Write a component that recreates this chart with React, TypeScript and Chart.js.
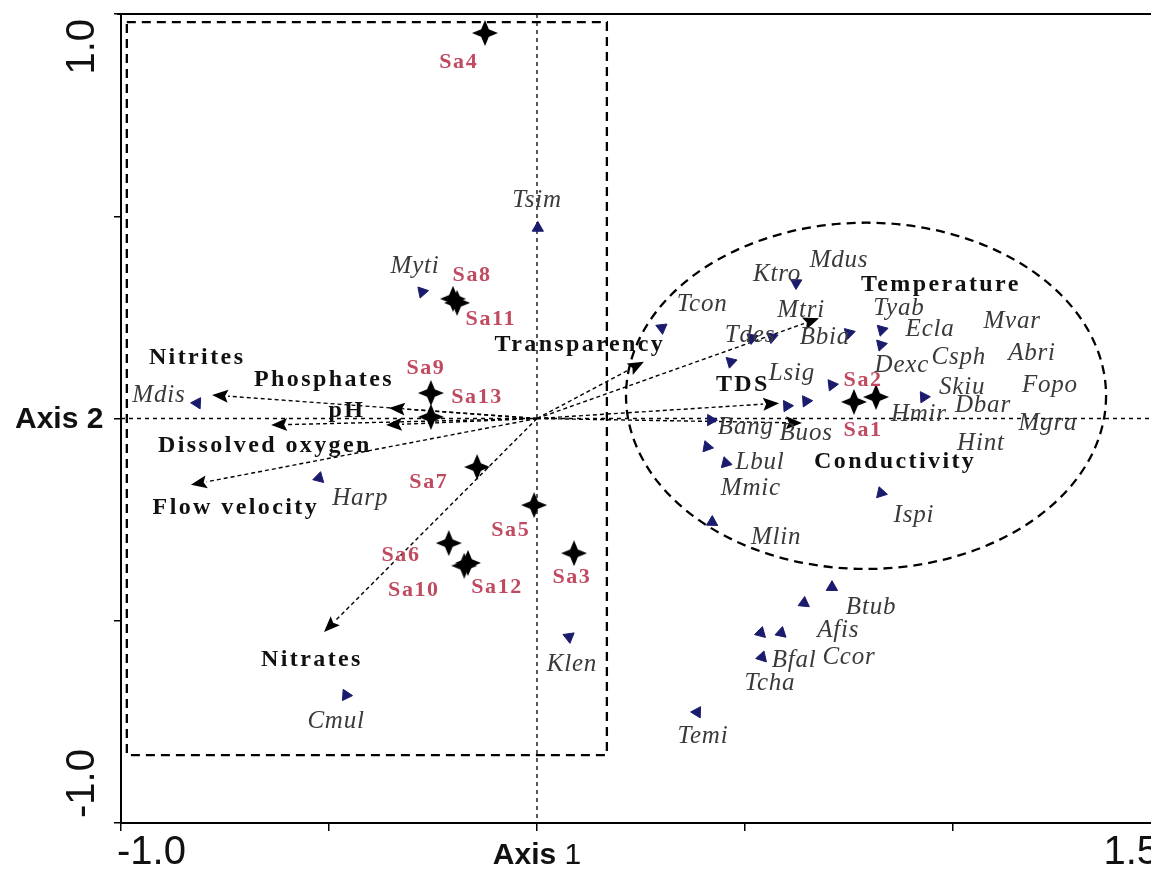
import React, { useEffect, useRef } from "react";
import { Chart, registerables } from "chart.js";

Chart.register(...registerables);

// ---- Sites (samples) ----
const siteNames = ["Sa1", "Sa2", "Sa3", "Sa4", "Sa5", "Sa6", "Sa7", "Sa8", "Sa9", "Sa10", "Sa11", "Sa12", "Sa13"];
const siteX = [0.762, 0.815, 0.089, -0.125, -0.007, -0.212, -0.144, -0.202, -0.255, -0.175, -0.192, -0.166, -0.255];
const siteY = [0.041, 0.053, -0.333, 0.953, -0.214, -0.308, -0.12, 0.296, 0.063, -0.364, 0.286, -0.357, 0.004];
const siteLabelX = [0.784, 0.784, 0.084, -0.188, -0.063, -0.327, -0.26, -0.156, -0.267, -0.296, -0.111, -0.096, -0.144];
const siteLabelY = [-0.028, 0.095, -0.392, 0.881, -0.276, -0.337, -0.157, 0.355, 0.125, -0.424, 0.244, -0.417, 0.053];

// ---- Environmental variables (arrows) ----
const envNames = ["Nitrites", "Phosphates", "pH", "Dissolved oxygen", "Flow velocity", "Nitrates", "Transparency", "Temperature", "TDS", "Conductivity"];
const envX = [-0.781, -0.356, -0.363, -0.639, -0.832, -0.512, 0.257, 0.678, 0.582, 0.637];
const envY = [0.058, 0.026, -0.016, -0.016, -0.164, -0.528, 0.14, 0.248, 0.038, -0.011];
const envLabelX = [-0.817, -0.512, -0.457, -0.654, -0.724, -0.541, 0.103, 0.971, 0.495, 0.861];
const envLabelY = [0.15, 0.095, 0.019, -0.068, -0.221, -0.597, 0.182, 0.33, 0.083, -0.108];

// ---- Species markers ----
const speciesMarkerX = [0.002, -0.276, -0.817, -0.524, -0.459, 0.077, 0.3, 0.623, 0.517, 0.565, 0.75, 0.466, 0.709, 0.601, 0.647, 0.418, 0.409, 0.454, 0.421, 0.829, 0.827, 0.93, 0.827, 0.709, 0.642, 0.538, 0.587, 0.541, 0.385];
const speciesMarkerY = [0.471, 0.313, 0.038, -0.147, -0.684, -0.54, 0.224, 0.335, 0.199, 0.201, 0.211, 0.14, 0.083, 0.031, 0.043, -0.004, -0.07, -0.11, -0.256, 0.219, 0.182, 0.053, -0.184, -0.417, -0.456, -0.53, -0.53, -0.59, -0.726];

// ---- Species labels ----
const speciesNames = ["Tsim", "Myti", "Mdis", "Harp", "Cmul", "Klen", "Tcon", "Ktro", "Mdus", "Mtri", "Tdes", "Bbia", "Lsig", "Bang", "Buos", "Lbul", "Mmic", "Mlin", "Tyab", "Ecla", "Dexc", "Csph", "Mvar", "Abri", "Skiu", "Fopo", "Dbar", "Hmir", "Mgra", "Hint", "Ispi", "Btub", "Afis", "Bfal", "Ccor", "Tcha", "Temi"];
const speciesLabelX = [0.0, -0.293, -0.909, -0.425, -0.483, 0.084, 0.397, 0.577, 0.726, 0.635, 0.512, 0.692, 0.613, 0.502, 0.647, 0.536, 0.514, 0.575, 0.87, 0.945, 0.877, 1.014, 1.142, 1.19, 1.022, 1.233, 1.072, 0.918, 1.228, 1.067, 0.906, 0.803, 0.724, 0.618, 0.75, 0.56, 0.399];
const speciesLabelY = [0.54, 0.375, 0.058, -0.197, -0.75, -0.609, 0.281, 0.355, 0.392, 0.268, 0.206, 0.201, 0.112, -0.021, -0.036, -0.108, -0.172, -0.293, 0.273, 0.219, 0.132, 0.15, 0.239, 0.162, 0.078, 0.083, 0.033, 0.009, -0.011, -0.061, -0.239, -0.468, -0.523, -0.597, -0.59, -0.654, -0.787];

// ---- Axes ----
const xMin = -1.0;
const xMax = 1.476;
const yMin = -1.0;
const yMax = 1.0;
const xTicks = [-1.0, -0.5, 0.0, 0.5, 1.0];
const yTicks = [-1.0, -0.5, 0.0, 0.5, 1.0];
const xTickLabels = ["-1.0", "1.5"];
const yTickLabels = ["1.0", "-1.0"];
const xAxisTitle = ["Axis", " 1"];
const yAxisTitle = "Axis 2";

// ---- Grouping shapes (data units) ----
const boxLeft = -0.986;
const boxRight = 0.168;
const boxTop = 0.98;
const boxBottom = -0.832;
const ellipseCenter = [0.791, 0.056];
const ellipseRadii = [0.577, 0.428];

function makeStar(size: number): HTMLCanvasElement {
  const c = document.createElement("canvas");
  c.width = size;
  c.height = size;
  const g = c.getContext("2d")!;
  const r = size / 2;
  const ri = r * 0.42;
  g.beginPath();
  for (let i = 0; i < 8; i++) {
    const a = -Math.PI / 2 + (i * Math.PI) / 4;
    const rr = i % 2 === 0 ? r : ri;
    const px = r + rr * Math.cos(a);
    const py = r + rr * Math.sin(a);
    if (i === 0) g.moveTo(px, py);
    else g.lineTo(px, py);
  }
  g.closePath();
  g.fillStyle = "#000";
  g.fill();
  return c;
}

function drawText(ctx: CanvasRenderingContext2D, text: string, x: number, y: number, font: string, color: string, spacing: string, align: CanvasTextAlign = "center") {
  ctx.font = font;
  ctx.fillStyle = color;
  (ctx as any).letterSpacing = spacing;
  ctx.textAlign = align;
  ctx.textBaseline = "middle";
  ctx.fillText(text, x, y);
}

const biplotPlugin = {
  id: "biplot",
  beforeDatasetsDraw(chart: any) {
    const { ctx, chartArea } = chart;
    const xs = chart.scales.x;
    const ys = chart.scales.y;
    const px = (v: number) => xs.getPixelForValue(v);
    const py = (v: number) => ys.getPixelForValue(v);
    ctx.save();
    // top frame line
    ctx.strokeStyle = "#000";
    ctx.lineWidth = 2;
    ctx.setLineDash([]);
    ctx.beginPath();
    ctx.moveTo(chartArea.left - 4, chartArea.top);
    ctx.lineTo(chartArea.right, chartArea.top);
    ctx.stroke();

    // origin dashed lines
    ctx.lineWidth = 1.3;
    ctx.setLineDash([4, 4]);
    ctx.beginPath();
    ctx.moveTo(px(0), chartArea.top);
    ctx.lineTo(px(0), chartArea.bottom);
    ctx.moveTo(chartArea.left, py(0));
    ctx.lineTo(chartArea.right, py(0));
    ctx.stroke();

    // grouping rectangle
    ctx.lineWidth = 2.3;
    ctx.setLineDash([9, 6]);
    ctx.beginPath();
    ctx.rect(px(boxLeft), py(boxTop), px(boxRight) - px(boxLeft), py(boxBottom) - py(boxTop));
    ctx.stroke();

    // grouping ellipse
    const ecx = px(ellipseCenter[0]);
    const ecy = py(ellipseCenter[1]);
    const erx = Math.abs(px(ellipseCenter[0] + ellipseRadii[0]) - ecx);
    const ery = Math.abs(py(ellipseCenter[1] + ellipseRadii[1]) - ecy);
    ctx.beginPath();
    ctx.ellipse(ecx, ecy, erx, ery, 0, 0, Math.PI * 2);
    ctx.stroke();

    // environmental arrows
    const ox = px(0);
    const oy = py(0);
    for (let i = 0; i < envNames.length; i++) {
      const hx = px(envX[i]);
      const hy = py(envY[i]);
      const ang = Math.atan2(hy - oy, hx - ox);
      const hl = 16;
      const hw = 6.5;
      const bx = hx - hl * Math.cos(ang);
      const by = hy - hl * Math.sin(ang);
      ctx.lineWidth = 1.4;
      ctx.setLineDash([4, 3]);
      ctx.strokeStyle = "#000";
      ctx.beginPath();
      ctx.moveTo(ox, oy);
      ctx.lineTo(bx, by);
      ctx.stroke();
      ctx.setLineDash([]);
      ctx.fillStyle = "#000";
      ctx.beginPath();
      ctx.moveTo(hx, hy);
      ctx.lineTo(bx + hw * Math.sin(ang), by - hw * Math.cos(ang));
      ctx.lineTo(bx + 3 * Math.cos(ang), by + 3 * Math.sin(ang));
      ctx.lineTo(bx - hw * Math.sin(ang), by + hw * Math.cos(ang));
      ctx.closePath();
      ctx.fill();
    }
    ctx.restore();
  },
  afterDatasetsDraw(chart: any) {
    const { ctx, chartArea } = chart;
    const xs = chart.scales.x;
    const ys = chart.scales.y;
    const px = (v: number) => xs.getPixelForValue(v);
    const py = (v: number) => ys.getPixelForValue(v);
    ctx.save();
    const serif = "'Liberation Serif', 'Times New Roman', serif";
    const sans = "'Liberation Sans', Arial, sans-serif";

    for (let i = 0; i < speciesNames.length; i++) {
      drawText(ctx, speciesNames[i], px(speciesLabelX[i]), py(speciesLabelY[i]), `italic 25px ${serif}`, "#3a3a3a", "0.8px");
    }
    for (let i = 0; i < envNames.length; i++) {
      drawText(ctx, envNames[i], px(envLabelX[i]), py(envLabelY[i]), `bold 24px ${serif}`, "#111", "2.4px");
    }
    for (let i = 0; i < siteNames.length; i++) {
      drawText(ctx, siteNames[i], px(siteLabelX[i]), py(siteLabelY[i]), `bold 22px ${serif}`, "#c04a60", "1.6px");
    }

    // tick labels
    const tickFont = `40px ${sans}`;
    const bottomY = chartArea.bottom + 30;
    drawText(ctx, xTickLabels[0], px(xTicks[0]) - 4, bottomY, tickFont, "#111", "0px", "left");
    drawText(ctx, xTickLabels[1], chartArea.right + 8, bottomY, tickFont, "#111", "0px", "right");

    ctx.save();
    ctx.translate(chartArea.left - 38, py(yMax) + 5);
    ctx.rotate(-Math.PI / 2);
    drawText(ctx, yTickLabels[0], 0, 0, tickFont, "#111", "0px", "right");
    ctx.restore();
    ctx.save();
    ctx.translate(chartArea.left - 38, py(yMin) - 5);
    ctx.rotate(-Math.PI / 2);
    drawText(ctx, yTickLabels[1], 0, 0, tickFont, "#111", "0px", "left");
    ctx.restore();

    // axis titles
    ctx.font = `bold 30px ${sans}`;
    const w0 = ctx.measureText(xAxisTitle[0]).width;
    ctx.font = `30px ${sans}`;
    const w1 = ctx.measureText(xAxisTitle[1]).width;
    const startX = px(0) - (w0 + w1) / 2;
    drawText(ctx, xAxisTitle[0], startX, chartArea.bottom + 33, `bold 30px ${sans}`, "#111", "0px", "left");
    drawText(ctx, xAxisTitle[1], startX + w0, chartArea.bottom + 33, `30px ${sans}`, "#111", "0px", "left");
    drawText(ctx, yAxisTitle, 15, py(0) + 1, `bold 30px ${sans}`, "#111", "0px", "left");
    ctx.restore();
  },
};

export default function App() {
  const ref = useRef<HTMLCanvasElement | null>(null);
  useEffect(() => {
    document.body.style.margin = "0";
    const canvas = ref.current!;
    const star = makeStar(26);
    const rotations = speciesMarkerX.map((x, i) => (Math.atan2(x, speciesMarkerY[i]) * 180) / Math.PI);
    const chart = new Chart(canvas, {
      type: "scatter",
      data: {
        datasets: [
          {
            label: "Species",
            data: speciesMarkerX.map((x, i) => ({ x, y: speciesMarkerY[i] })),
            pointStyle: "triangle",
            pointRadius: 6.5,
            pointRotation: rotations,
            backgroundColor: "#1b1b6e",
            borderColor: "#1b1b6e",
            borderWidth: 1,
          },
          {
            label: "Sites",
            data: siteX.map((x, i) => ({ x, y: siteY[i] })),
            pointStyle: star,
            pointRadius: 13,
            backgroundColor: "#000",
            borderColor: "#000",
          },
        ],
      },
      options: {
        responsive: false,
        animation: false,
        events: [],
        layout: { padding: { top: 14, right: 0, left: 0, bottom: 0 }, autoPadding: false },
        plugins: { legend: { display: false }, tooltip: { enabled: false } },
        scales: {
          x: {
            type: "linear",
            position: "bottom",
            min: xMin,
            max: xMax,
            afterBuildTicks: (s: any) => {
              s.ticks = xTicks.map((v) => ({ value: v }));
            },
            afterFit: (s: any) => {
              s.height = 49;
            },
            ticks: { display: false },
            grid: { drawOnChartArea: false, drawTicks: true, tickLength: 8, color: "#000", lineWidth: 1.5 },
            border: { display: true, color: "#000", width: 2 },
          },
          y: {
            type: "linear",
            position: "left",
            min: yMin,
            max: yMax,
            afterBuildTicks: (s: any) => {
              s.ticks = yTicks.map((v) => ({ value: v }));
            },
            afterFit: (s: any) => {
              s.width = 121;
            },
            ticks: { display: false },
            grid: { drawOnChartArea: false, drawTicks: true, tickLength: 7, color: "#000", lineWidth: 1.5 },
            border: { display: true, color: "#000", width: 2 },
          },
        },
      },
      plugins: [biplotPlugin],
    });
    return () => chart.destroy();
  }, []);
  return (
    <div style={{ width: 1151, height: 872, background: "#fff" }}>
      <canvas ref={ref} width={1151} height={872} style={{ display: "block" }} />
    </div>
  );
}
